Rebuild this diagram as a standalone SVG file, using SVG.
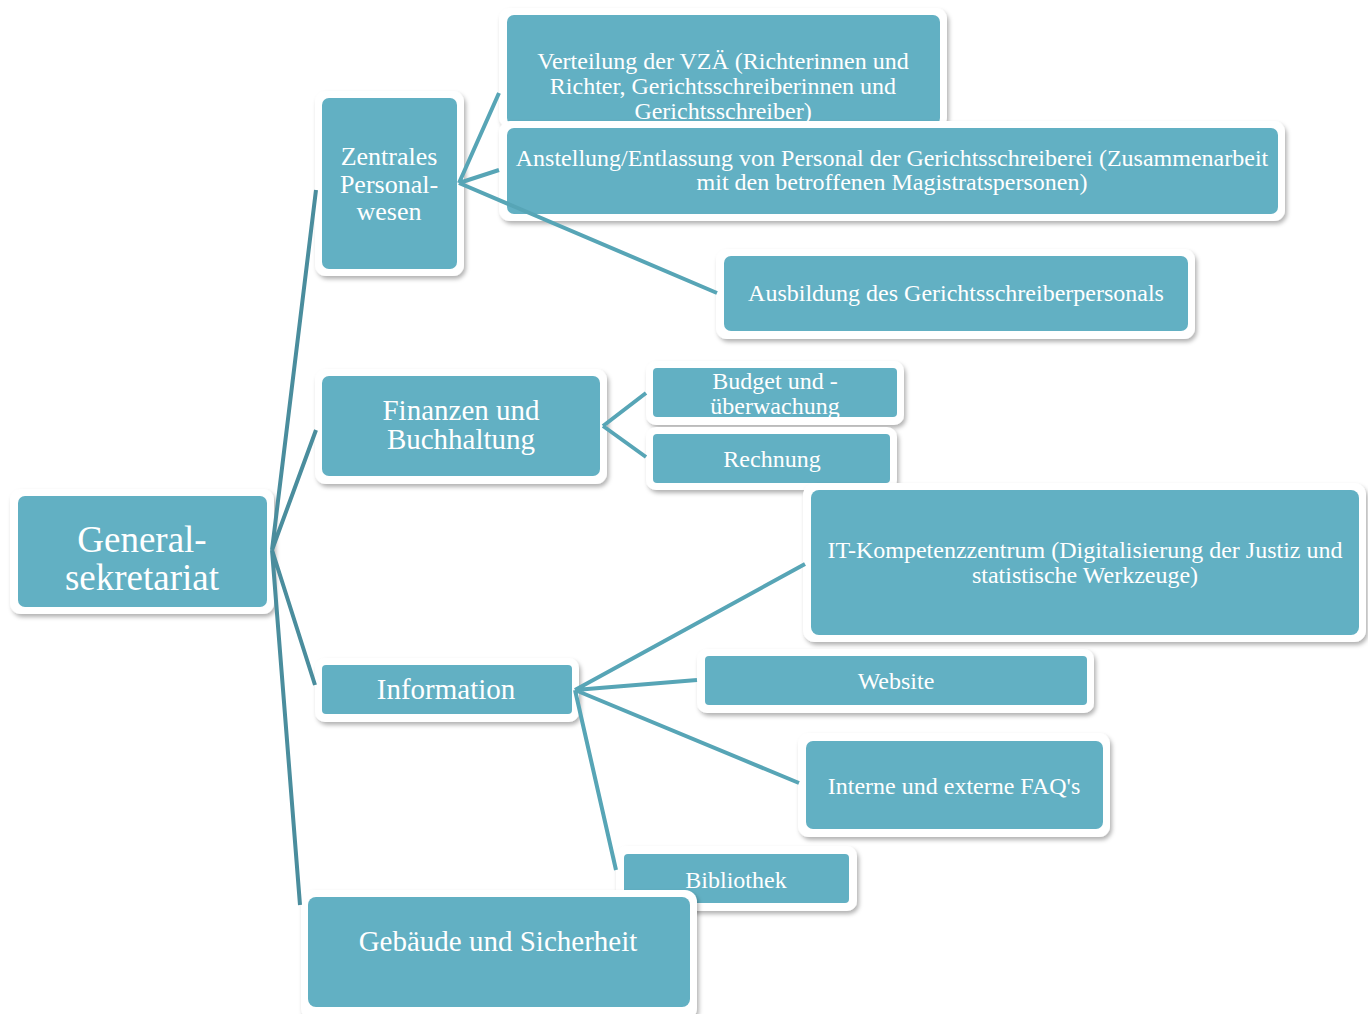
<svg xmlns="http://www.w3.org/2000/svg" width="1368" height="1014" viewBox="0 0 1368 1014">
<defs>
<filter id="sh" x="-10%" y="-10%" width="120%" height="130%">
<feDropShadow dx="2" dy="3" stdDeviation="2" flood-color="#000" flood-opacity="0.3"/>
</filter>
</defs>
<style>
.o{fill:#fff;filter:url(#sh)}
.i{fill:#62b0c3}
text{font-family:"Liberation Serif","Times New Roman",serif;fill:#fff;text-anchor:middle}
.s{font-size:24px}
.m{font-size:29px}
.z{font-size:26px}
.l{font-size:37px}
.rc{stroke:#4a8d9d;stroke-width:4;fill:none}
.cc{stroke:#57a5b6;stroke-width:4;fill:none}
</style>
<rect width="1368" height="1014" fill="#fff"/>
<g id="nodes">
<g id="root">
<rect class="o" x="10" y="489" width="264" height="125" rx="11"/>
<rect class="i" x="18" y="496" width="249" height="111" rx="7"/>
<text class="l" x="142" y="552">General-</text>
<text class="l" x="142" y="590">sekretariat</text>
</g>
<g id="zentrales">
<rect class="o" x="315" y="91" width="149" height="185" rx="11"/>
<rect class="i" x="322" y="98" width="135" height="171" rx="7"/>
<text class="z" x="389" y="165">Zentrales</text>
<text class="z" x="389" y="193">Personal-</text>
<text class="z" x="389" y="220">wesen</text>
</g>
<g id="verteilung">
<rect class="o" x="499" y="8" width="448" height="120" rx="11"/>
<rect class="i" x="507" y="15" width="433" height="110" rx="7"/>
<text class="s" x="723" y="69">Verteilung der VZÄ (Richterinnen und</text>
<text class="s" x="723" y="94">Richter, Gerichtsschreiberinnen und</text>
<text class="s" x="723" y="119">Gerichtsschreiber)</text>
</g>
<g id="anstellung">
<rect class="o" x="499" y="121" width="786" height="100" rx="11"/>
<rect class="i" x="507" y="128" width="771" height="86" rx="7"/>
<text class="s" x="892" y="166">Anstellung/Entlassung von Personal der Gerichtsschreiberei (Zusammenarbeit</text>
<text class="s" x="892" y="190">mit den betroffenen Magistratspersonen)</text>
</g>
<g id="ausbildung">
<rect class="o" x="716" y="249" width="479" height="90" rx="11"/>
<rect class="i" x="724" y="256" width="464" height="75" rx="7"/>
<text class="s" x="956" y="301">Ausbildung des Gerichtsschreiberpersonals</text>
</g>
<g id="finanzen">
<rect class="o" x="315" y="369" width="292" height="115" rx="11"/>
<rect class="i" x="322" y="376" width="278" height="100" rx="7"/>
<text class="m" x="461" y="420">Finanzen und</text>
<text class="m" x="461" y="449">Buchhaltung</text>
</g>
<g id="budget">
<rect class="o" x="646" y="361" width="258" height="64" rx="10"/>
<rect class="i" x="653" y="368" width="244" height="49" rx="4"/>
<text class="s" x="775" y="389">Budget und -</text>
<text class="s" x="775" y="414">überwachung</text>
</g>
<g id="rechnung">
<rect class="o" x="646" y="427" width="251" height="63" rx="10"/>
<rect class="i" x="653" y="434" width="237" height="49" rx="4"/>
<text class="s" x="772" y="467">Rechnung</text>
</g>
<g id="it">
<rect class="o" x="803" y="483" width="563" height="159" rx="12"/>
<rect class="i" x="811" y="490" width="548" height="145" rx="8"/>
<text class="s" x="1085" y="558">IT-Kompetenzzentrum (Digitalisierung der Justiz und</text>
<text class="s" x="1085" y="583">statistische Werkzeuge)</text>
</g>
<g id="information">
<rect class="o" x="315" y="658" width="264" height="64" rx="10"/>
<rect class="i" x="322" y="665" width="250" height="49" rx="4"/>
<text class="m" x="446" y="699">Information</text>
</g>
<g id="website">
<rect class="o" x="697" y="649" width="397" height="64" rx="10"/>
<rect class="i" x="705" y="656" width="382" height="49" rx="4"/>
<text class="s" x="896" y="689">Website</text>
</g>
<g id="interne">
<rect class="o" x="798" y="733" width="312" height="104" rx="11"/>
<rect class="i" x="806" y="741" width="297" height="88" rx="7"/>
<text class="s" x="954" y="794">Interne und externe FAQ's</text>
</g>
<g id="bibliothek">
<rect class="o" x="616" y="846" width="241" height="65" rx="10"/>
<rect class="i" x="624" y="854" width="225" height="49" rx="4"/>
<text class="s" x="736" y="888">Bibliothek</text>
</g>
<g id="gebaeude">
<rect class="o" x="301" y="890" width="396" height="130" rx="12"/>
<rect class="i" x="308" y="897" width="382" height="110" rx="8"/>
<text class="m" x="498" y="951">Gebäude und Sicherheit</text>
</g>
</g>
<g id="connectors">
<path class="rc" d="M272 550 L316 190 M272 550 L316 430 M272 550 L315 685 M272 550 L300 905"/>
<path class="cc" d="M459 183 L499 93 M459 183 L499 170 M459 183 L717 293"/>
<path class="cc" d="M603 426 L646 393 M603 426 L646 457"/>
<path class="cc" d="M575 690 L805 564 M575 690 L697 680 M575 690 L799 783 M575 690 L616 870"/>
</g>
</svg>
